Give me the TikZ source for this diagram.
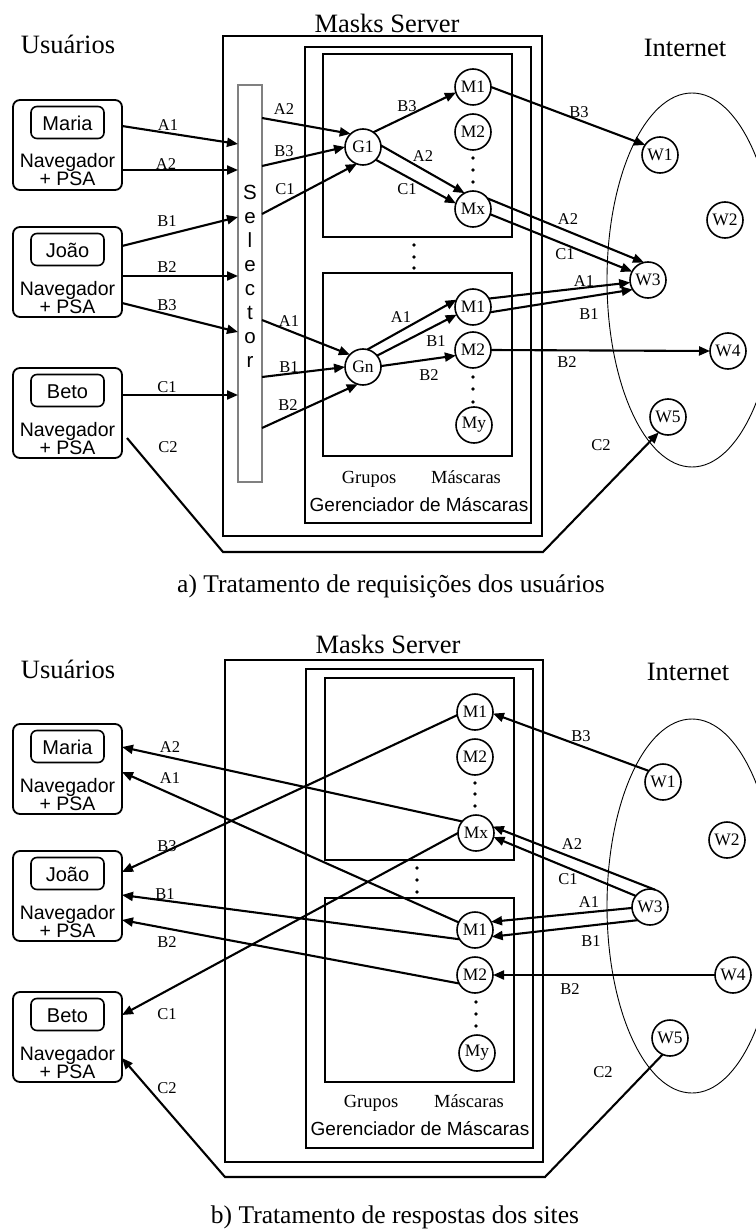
\documentclass[tikz,border=0pt]{standalone}
\usepackage{fontspec}
\setmainfont{Liberation Serif}
\newfontfamily\arialfam{Liberation Sans}
\usetikzlibrary{arrows.meta,calc,shapes.geometric}
\begin{document}
\begin{tikzpicture}[x=1pt,y=-1pt,
  frame/.style={draw, line width=1.9pt, anchor=north west, inner sep=0, outer sep=0},
  selbox/.style={draw=black!50, line width=1.4pt, anchor=north west, inner sep=0, outer sep=0, minimum width=24pt, minimum height=397pt},
  ubox/.style={draw, rounded corners=7pt, line width=1.8pt, minimum width=109pt, minimum height=90pt, anchor=north west, inner sep=0, outer sep=0},
  nbox/.style={draw, rounded corners=6pt, line width=1.6pt, minimum width=73pt, minimum height=32pt, inner sep=0, text height=16.5pt, text depth=0pt, font=\arialfam\fontsize{20}{22}\selectfont},
  navt/.style={anchor=base, inner sep=0, font=\arialfam\fontsize{19.5}{21}\selectfont},
  selch/.style={anchor=base, inner sep=0, font=\arialfam\fontsize{20.5}{22}\selectfont},
  mc/.style={circle, draw, fill=white, line width=1.6pt, minimum size=36pt, inner sep=0, outer sep=0, font=\fontsize{17.5}{18}\selectfont},
  lbl/.style={inner sep=0, font=\fontsize{16.5}{18}\selectfont},
  ttl/.style={anchor=base, inner sep=0, font=\fontsize{26.5}{28}\selectfont},
  capt/.style={anchor=base, inner sep=0, font=\fontsize{25.5}{28}\selectfont},
  smallt/.style={anchor=base, inner sep=0, font=\fontsize{18.5}{20}\selectfont},
  gert/.style={anchor=base, inner sep=0, font=\arialfam\fontsize{19}{21}\selectfont},
  conn/.style={line width=2.1pt, -{Triangle[length=11pt,width=9pt]}},
  plainc/.style={line width=2.1pt},
  dotc/.style={circle, fill, inner sep=0, minimum size=3.6pt},
  net/.style={draw, ellipse, line width=0.9pt, inner sep=0, minimum width=170pt, minimum height=374pt},
]
\useasboundingbox (0,0) rectangle (755,1230);

%==================== PANEL A ====================
\node[ttl] (tUa) at (68,54) {Usuários};
\node[ttl] (tMa) at (387,33) {Masks Server};
\node[ttl] (tIa) at (685,57) {Internet};

\node[frame, minimum width=319pt, minimum height=500pt] (srvA) at (223,36) {};
\node[frame, minimum width=226pt, minimum height=476pt] (gerA) at (305,47) {};
\node[frame, minimum width=189pt, minimum height=183pt] (grp1A) at (323,54) {};
\node[frame, minimum width=189pt, minimum height=183pt] (grp2A) at (323,273) {};
\node[selbox] (selA) at (238,85) {};
\foreach \c [count=\i from 0] in {S,e,l,e,c,t,o,r} {\node[selch] (selA\i) at (250,{200+23.9*\i}) {\c};}

\foreach \yy [count=\i] in {245,257,268} {\node[dotc] (dmA\i) at (414,\yy) {};}
\foreach \yy [count=\i] in {158,170,182} {\node[dotc] (dtA\i) at (473,\yy) {};}
\foreach \yy [count=\i] in {377,389,402} {\node[dotc] (dbA\i) at (473,\yy) {};}

\node[smallt] (grA) at (369,483) {Grupos};
\node[smallt] (msA) at (466,483) {Máscaras};
\node[gert] (gtA) at (419,511) {Gerenciador de Máscaras};

\node[net] (netA) at (692,280) {};

% users
\node[ubox] (mariaA) at (13,100) {};
\node[nbox] (mariaAn) at (67.5,122.5) {Maria};
\node[navt] (mariaAv) at (67.5,168) {Navegador};
\node[navt] (mariaAp) at (67.5,186) {+ PSA};
\node[ubox] (joaoA) at (13,227) {};
\node[nbox] (joaoAn) at (67.5,249.5) {João};
\node[navt] (joaoAv) at (67.5,295) {Navegador};
\node[navt] (joaoAp) at (67.5,313) {+ PSA};
\node[ubox] (betoA) at (13,368) {};
\node[nbox] (betoAn) at (67.5,390.5) {Beto};
\node[navt] (betoAv) at (67.5,436) {Navegador};
\node[navt] (betoAp) at (67.5,454) {+ PSA};

% circles
\node[mc] (G1) at (363,147) {G1};
\node[mc] (M1) at (473,87) {M1};
\node[mc] (M2) at (473,132) {M2};
\node[mc] (Mx) at (473,209) {Mx};
\node[mc] (Gn) at (363,367) {Gn};
\node[mc] (M1b) at (473,307) {M1};
\node[mc] (M2b) at (473,350) {M2};
\node[mc] (My) at (474,425) {My};
\node[mc] (W1) at (660,155) {W1};
\node[mc] (W2) at (725,220) {W2};
\node[mc] (W3) at (648,280) {W3};
\node[mc] (W4) at (728,351) {W4};
\node[mc] (W5) at (668,417) {W5};

% users -> selector
\draw[conn] ([yshift=-26pt]mariaA.north east) -- ([yshift=-59pt]selA.north west);
\draw[conn] ([yshift=-70pt]mariaA.north east) -- ([yshift=-85pt]selA.north west);
\draw[conn] ([yshift=-19pt]joaoA.north east) -- ([yshift=-132pt]selA.north west);
\draw[conn] ([yshift=-49pt]joaoA.north east) -- ([yshift=-191pt]selA.north west);
\draw[conn] ([yshift=-76pt]joaoA.north east) -- ([yshift=-247pt]selA.north west);
\draw[conn] ([yshift=-27pt]betoA.north east) -- ([yshift=-310pt]selA.north west);
\coordinate (c2a1) at (223,552);
\coordinate (c2a2) at (543,552);
\draw[conn] ([xshift=5pt,yshift=-70pt]betoA.north east) -- (c2a1) -- (c2a2) -- (W5.239);

% selector -> groups
\draw[conn] ([yshift=-33pt]selA.north east) -- (G1.133);
\draw[conn] ([yshift=-81pt]selA.north east) -- (G1.180);
\draw[conn] ([yshift=-129pt]selA.north east) -- (G1.250);
\draw[conn] ([yshift=-235pt]selA.north east) -- (Gn.137);
\draw[conn] ([yshift=-292pt]selA.north east) -- (Gn.180);
\draw[conn] ([yshift=-343pt]selA.north east) -- (Gn.253);

% groups -> masks
\draw[conn] (G1.55) -- (M1.198);
\draw[conn] (G1.5) -- (Mx.118);
\draw[conn] (G1.-45) -- (Mx.162);
\draw[conn] (Gn.76) -- (M1b.156);
\draw[conn] (Gn.39) -- (M1b.205);
\draw[conn] (Gn.3) -- (M2b.198);

% masks -> web
\draw[conn] (M1.0) -- (W1.146);
\draw[conn] (Mx.36) -- (W3.103);
\draw[conn] (Mx.-17) -- (W3.152);
\draw[conn] (M1b.28) -- (W3.188);
\draw[conn] (M1b.-17) -- (W3.212);
\draw[conn] (M2b.east) -- (W4.west);

% labels panel a
\node[lbl] (la1) at (168,125) {A1};
\node[lbl] (la2) at (166,164) {A2};
\node[lbl] (la3) at (167,221) {B1};
\node[lbl] (la4) at (167,267) {B2};
\node[lbl] (la5) at (167,305) {B3};
\node[lbl] (la6) at (167,387) {C1};
\node[lbl] (la7) at (168,447) {C2};
\node[lbl] (la8) at (284,109) {A2};
\node[lbl] (la9) at (284,151) {B3};
\node[lbl] (la10) at (285,189) {C1};
\node[lbl] (la11) at (289,321) {A1};
\node[lbl] (la12) at (289,367) {B1};
\node[lbl] (la13) at (288,405) {B2};
\node[lbl] (la14) at (407,106) {B3};
\node[lbl] (la15) at (423,156) {A2};
\node[lbl] (la16) at (407,189) {C1};
\node[lbl] (la17) at (401,317) {A1};
\node[lbl] (la18) at (436,341) {B1};
\node[lbl] (la19) at (429,375) {B2};
\node[lbl] (la20) at (579,112) {B3};
\node[lbl] (la21) at (568,219) {A2};
\node[lbl] (la22) at (565,254) {C1};
\node[lbl] (la23) at (584,281) {A1};
\node[lbl] (la24) at (589,314) {B1};
\node[lbl] (la25) at (567,362) {B2};
\node[lbl] (la26) at (601,445) {C2};

\node[capt] (capA) at (391,592) {a) Tratamento de requisições dos usuários};

%==================== PANEL B ====================
\node[ttl] (tUb) at (68,678) {Usuários};
\node[ttl] (tMb) at (388,653) {Masks Server};
\node[ttl] (tIb) at (688,680) {Internet};

\node[frame, minimum width=318pt, minimum height=502pt] (srvB) at (225,660) {};
\node[frame, minimum width=227pt, minimum height=479pt] (gerB) at (306,669) {};
\node[frame, minimum width=189pt, minimum height=182pt] (grp1B) at (325,678) {};
\node[frame, minimum width=189pt, minimum height=184pt] (grp2B) at (325,898) {};

\foreach \yy [count=\i] in {868,880,892} {\node[dotc] (dmB\i) at (417,\yy) {};}
\foreach \yy [count=\i] in {783,794,806} {\node[dotc] (dtB\i) at (475,\yy) {};}
\foreach \yy [count=\i] in {1002,1014,1026} {\node[dotc] (dbB\i) at (476,\yy) {};}

\node[smallt] (grB) at (371,1107) {Grupos};
\node[smallt] (msB) at (469,1107) {Máscaras};
\node[gert] (gtB) at (420,1135) {Gerenciador de Máscaras};

\node[net] (netB) at (692,906) {};

\node[ubox] (mariaB) at (13,724) {};
\node[nbox] (mariaBn) at (67.5,746.5) {Maria};
\node[navt] (mariaBv) at (67.5,792) {Navegador};
\node[navt] (mariaBp) at (67.5,810) {+ PSA};
\node[ubox] (joaoB) at (13,851) {};
\node[nbox] (joaoBn) at (67.5,873.5) {João};
\node[navt] (joaoBv) at (67.5,919) {Navegador};
\node[navt] (joaoBp) at (67.5,937) {+ PSA};
\node[ubox] (betoB) at (13,992) {};
\node[nbox] (betoBn) at (67.5,1014.5) {Beto};
\node[navt] (betoBv) at (67.5,1060) {Navegador};
\node[navt] (betoBp) at (67.5,1078) {+ PSA};

\node[mc] (M1tB) at (475,712) {M1};
\node[mc] (M2tB) at (475,757) {M2};
\node[mc] (MxB) at (476,833) {Mx};
\node[mc] (M1bB) at (475,930) {M1};
\node[mc] (M2bB) at (475,975) {M2};
\node[mc] (MyB) at (477,1053) {My};
\node[mc] (W1B) at (663,782) {W1};
\node[mc] (W2B) at (727,840) {W2};
\node[mc] (W3B) at (650,907) {W3};
\node[mc] (W4B) at (733,975) {W4};
\node[mc] (W5B) at (670,1038) {W5};

% web -> masks
\draw[conn] (W1B.142) -- (M1tB.355);
\draw[conn] (W3B.74) -- (MxB.21);
\draw[conn] (W3B.142) -- (MxB.-13);
\draw[conn] (W3B.183) -- (M1bB.27);
\draw[conn] (W3B.227) -- (M1bB.-22);
\draw[conn] (W4B.west) -- (M2bB.east);

% masks -> users
\draw[conn] (MxB.140) -- ([yshift=-23pt]mariaB.north east);
\draw[conn] (M1bB.155) -- ([yshift=-48pt]mariaB.north east);
\draw[conn] (M1tB.190) -- ([yshift=-21pt]joaoB.north east);
\draw[conn] (M1bB.211) -- ([yshift=-44pt]joaoB.north east);
\draw[conn] (M2bB.208) -- ([yshift=-69pt]joaoB.north east);
\draw[conn] (MxB.180) -- ([yshift=-23pt]betoB.north east);
\coordinate (c2b1) at (545,1177);
\coordinate (c2b2) at (225,1177);
\draw[conn] (W5B.246) -- (c2b1) -- (c2b2) -- ([yshift=-66pt]betoB.north east);

% labels panel b
\node[lbl] (lb1) at (581,736) {B3};
\node[lbl] (lb2) at (572,844) {A2};
\node[lbl] (lb3) at (568,879) {C1};
\node[lbl] (lb4) at (589,902) {A1};
\node[lbl] (lb5) at (591,941) {B1};
\node[lbl] (lb6) at (570,989) {B2};
\node[lbl] (lb7) at (603,1072) {C2};
\node[lbl] (lb8) at (170,747) {A2};
\node[lbl] (lb9) at (170,778) {A1};
\node[lbl] (lb10) at (167,846) {B3};
\node[lbl] (lb11) at (165,894) {B1};
\node[lbl] (lb12) at (167,942) {B2};
\node[lbl] (lb13) at (167,1014) {C1};
\node[lbl] (lb14) at (167,1088) {C2};

\node[capt] (capB) at (395,1223) {b) Tratamento de respostas dos sites};
\end{tikzpicture}
\end{document}
